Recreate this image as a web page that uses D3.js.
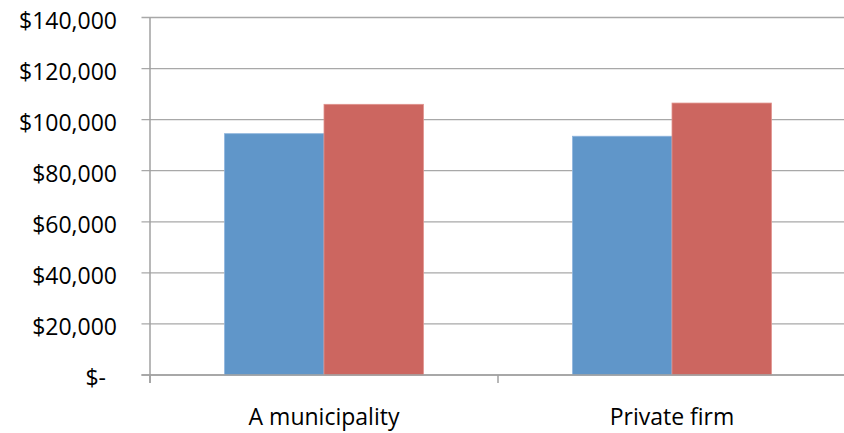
<!DOCTYPE html>
<html>
<head>
<meta charset="utf-8">
<script src="https://cdn.jsdelivr.net/npm/d3@7"></script>
<style>
  html, body { margin: 0; padding: 0; background: #fff; }
  svg { display: block; font-family: "Open Sans", "Noto Sans", sans-serif; }
</style>
</head>
<body>
<svg id="chart" width="844" height="433"></svg>
<script>
// Categories and the two series of salaries
const categories = ["A municipality", "Private firm"];
const seriesNames = ["Series A", "Series B"];
const seriesA = [94500, 93500];
const seriesB = [106000, 106500];
const yTicks = [0, 20000, 40000, 60000, 80000, 100000, 120000, 140000];

const colors = ["#6096c9", "#cc6660"];
const strokes = ["#8cb3dd", "#e0928d"];

const svg = d3.select("#chart");
const plotLeft = 150, plotRight = 846, plotTop = 17.5, plotBottom = 375;

const x = d3.scaleBand().domain(categories).range([plotLeft, plotRight]).paddingInner(0).paddingOuter(0);
const y = d3.scaleLinear().domain([0, 140000]).range([plotBottom, plotTop]);

// Excel-style gap width of 150%: each bar is band / 3.5
const barW = x.bandwidth() / 3.5;
const inner = d3.scaleBand().domain([0, 1]).range([0, 2 * barW]);

const fmt = v => v === 0 ? "$-" : "$" + d3.format(",")(v);

// Gridlines with outward tick stubs
svg.append("g").selectAll("line")
  .data(yTicks)
  .join("line")
  .attr("x1", plotLeft - 8.5)
  .attr("x2", 844)
  .attr("y1", d => y(d))
  .attr("y2", d => y(d))
  .attr("stroke", "#a8a8a8")
  .attr("stroke-width", 1.3);

// Y tick labels
svg.append("g").selectAll("text")
  .data(yTicks)
  .join("text")
  .attr("x", d => d === 0 ? 106 : 117)
  .attr("y", d => y(d) + 2)
  .attr("text-anchor", "end")
  .attr("dominant-baseline", "central")
  .attr("font-size", 23)
  .attr("fill", "#000")
  .text(fmt);

// Bars
const data = categories.map((c, i) => ({ c, vals: [seriesA[i], seriesB[i]] }));
const groups = svg.append("g").selectAll("g")
  .data(data)
  .join("g")
  .attr("transform", d => `translate(${x(d.c) + (x.bandwidth() - 2 * barW) / 2},0)`);

groups.selectAll("rect")
  .data(d => d.vals.map((v, k) => ({ v, k })))
  .join("rect")
  .attr("x", d => inner(d.k))
  .attr("width", barW)
  .attr("y", d => y(d.v))
  .attr("height", d => plotBottom - y(d.v))
  .attr("fill", d => colors[d.k])
  .attr("stroke", d => strokes[d.k])
  .attr("stroke-width", 0.8);

// Axis lines
svg.append("line")
  .attr("x1", plotLeft).attr("x2", plotLeft)
  .attr("y1", plotTop).attr("y2", plotBottom + 8)
  .attr("stroke", "#a0a0a0").attr("stroke-width", 1.5);
svg.append("line")
  .attr("x1", plotLeft - 8.5).attr("x2", 844)
  .attr("y1", plotBottom).attr("y2", plotBottom)
  .attr("stroke", "#a0a0a0").attr("stroke-width", 1.5);

// Category tick marks between bands
const bTicks = categories.map(c => x(c)).concat([plotRight]);
svg.append("g").selectAll("line")
  .data(bTicks)
  .join("line")
  .attr("x1", d => d).attr("x2", d => d)
  .attr("y1", plotBottom).attr("y2", plotBottom + 8)
  .attr("stroke", "#a0a0a0").attr("stroke-width", 1.5);

// Category labels
svg.append("g").selectAll("text")
  .data(categories)
  .join("text")
  .attr("x", d => x(d) + x.bandwidth() / 2)
  .attr("y", 424.5)
  .attr("text-anchor", "middle")
  .attr("font-size", 23)
  .attr("fill", "#000")
  .text(d => d);
</script>
</body>
</html>
